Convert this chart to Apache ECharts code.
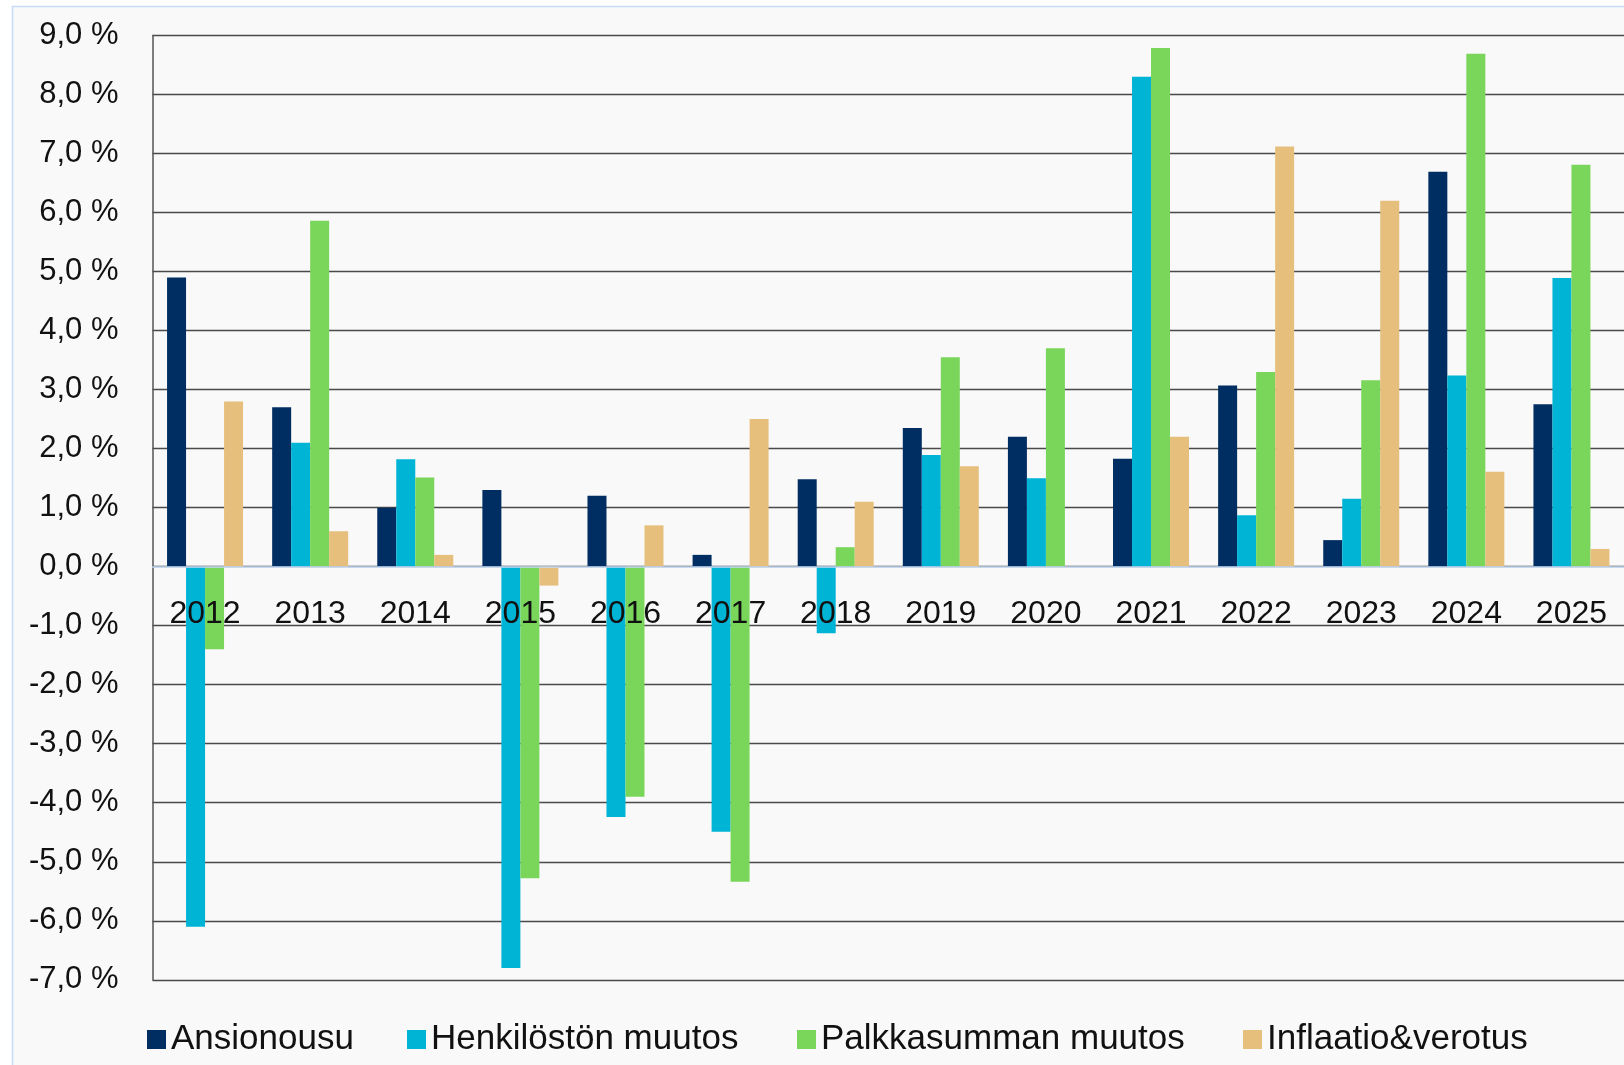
<!DOCTYPE html>
<html>
<head>
<meta charset="utf-8">
<title>Ansionousu ja palkkasumma</title>
<script src="https://cdn.jsdelivr.net/npm/echarts@6/dist/echarts.min.js"></script>
<style>
	html, body { margin: 0; padding: 0; background: #ffffff; }
	#chart { width: 1624px; height: 1065px; }
</style>
</head>
<body>
<div id="chart"></div>
<script>
// vuodet
var years = ['2012', '2013', '2014', '2015', '2016', '2017', '2018', '2019', '2020', '2021', '2022', '2023', '2024', '2025'];

// sarjojen nimet
var seriesNames = ['Ansionousu', 'Henkilöstön muutos', 'Palkkasumman muutos', 'Inflaatio&verotus'];

// arvot (%), luettu kuvasta
var ansionousu = [4.9, 2.7, 1.0, 1.3, 1.2, 0.2, 1.48, 2.35, 2.2, 1.83, 3.07, 0.45, 6.69, 2.75];
var henkilosto = [-6.1, 2.1, 1.82, -6.8, -4.24, -4.49, -1.13, 1.89, 1.5, 8.3, 0.87, 1.15, 3.24, 4.89];
var palkkasumma = [-1.4, 5.86, 1.51, -5.28, -3.9, -5.34, 0.33, 3.55, 3.7, 8.79, 3.3, 3.16, 8.69, 6.81];
var inflaatio = [2.8, 0.6, 0.2, -0.32, 0.7, 2.5, 1.1, 1.7, 0, 2.2, 7.12, 6.2, 1.61, 0.3];

var colors = ['#002e62', '#00b4d6', '#7ad65a', '#e6bf7d'];

// y-akselin asetukset
var yMin = -7;
var yMax = 9;
var yStep = 1;

var fontName = '"Liberation Sans", Arial, sans-serif';

// piirtoalue
var gridTop = 35.5;
var gridHeight = 944.3;

/**
 * muotoilee arvon muotoon "9,0 %"
 */
function formatPercent(v) {
	return v.toFixed(1).replace('.', ',') + ' %';
}

/**
 * yksi pylvässarja
 */
function makeBar(name, data, color) {
	return {
		name: name,
		type: 'bar',
		data: data,
		barWidth: 19,
		barGap: '0%',
		itemStyle: { color: color },
		emphasis: { disabled: true }
	};
}

/**
 * yksi selite (jokainen oma komponentti, jotta paikat osuvat)
 */
function makeLegend(name, left) {
	return {
		data: [name],
		left: left,
		top: 1017,
		itemWidth: 19,
		itemHeight: 19,
		icon: 'rect',
		selectedMode: false,
		textStyle: {
			fontFamily: fontName,
			fontSize: 35,
			color: '#111111'
		}
	};
}

var chart = echarts.init(document.getElementById('chart'), null, { renderer: 'canvas' });

// x-akseli nollatasolle: siirretään alareunasta ylös
var zeroOffset = -gridHeight * (0 - yMin) / (yMax - yMin);

chart.setOption({
	animation: false,
	backgroundColor: '#ffffff',
	color: colors,
	graphic: [{
		type: 'rect',
		z: -10,
		silent: true,
		shape: { x: 12.5, y: 6.5, width: 2000, height: 2000 },
		style: { fill: '#f9f9f9', stroke: '#c6dbf7', lineWidth: 1.5 }
	}],
	legend: [
		makeLegend(seriesNames[0], 142),
		makeLegend(seriesNames[1], 402),
		makeLegend(seriesNames[2], 792),
		makeLegend(seriesNames[3], 1238)
	],
	grid: {
		left: 152.5,
		top: gridTop,
		width: 1480,
		height: gridHeight,
		containLabel: false
	},
	xAxis: {
		type: 'category',
		data: years,
		position: 'bottom',
		offset: zeroOffset,
		z: 5,
		axisLine: { onZero: false, lineStyle: { color: '#c6dbf7', width: 1.5 } },
		axisTick: { show: false },
		axisLabel: {
			fontFamily: fontName,
			fontSize: 32,
			color: '#111111',
			margin: 32
		}
	},
	yAxis: {
		type: 'value',
		min: yMin,
		max: yMax,
		interval: yStep,
		axisLine: { show: true, lineStyle: { color: '#555555', width: 1.5 } },
		axisTick: { show: false },
		splitLine: { lineStyle: { color: '#4a4a4a', width: 1.3 } },
		axisLabel: {
			fontFamily: fontName,
			fontSize: 31,
			color: '#111111',
			margin: 34,
			formatter: formatPercent
		}
	},
	series: [
		makeBar(seriesNames[0], ansionousu, colors[0]),
		makeBar(seriesNames[1], henkilosto, colors[1]),
		makeBar(seriesNames[2], palkkasumma, colors[2]),
		makeBar(seriesNames[3], inflaatio, colors[3])
	]
});
</script>
</body>
</html>
